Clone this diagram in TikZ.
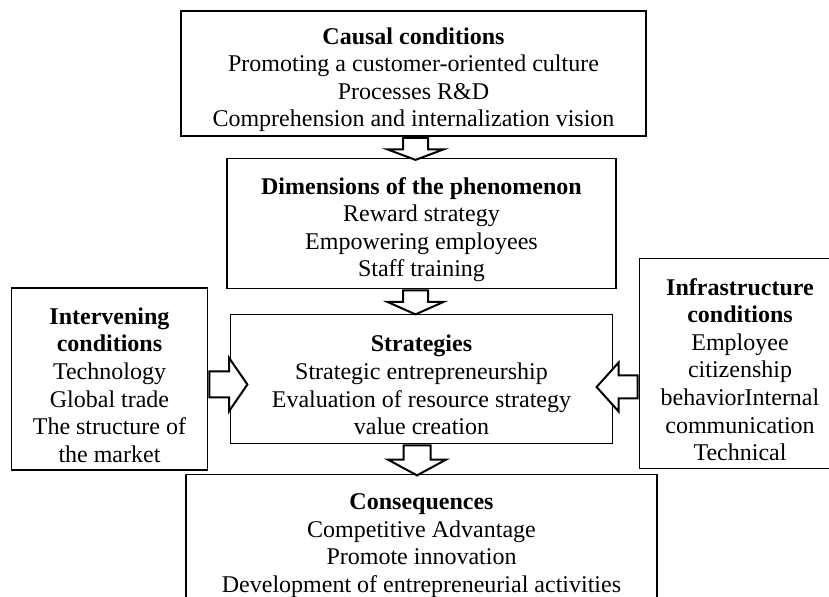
\documentclass[tikz,border=0pt]{standalone}
\usepackage{fontspec}
\setmainfont{Liberation Serif}
\usepackage{tikz}
\usetikzlibrary{shapes.arrows, positioning}

\newcommand{\boxhead}[1]{\rule{0pt}{14.5pt}\textbf{#1}}
\tikzstyle{box} = [rectangle, draw=black, line width=0.9pt, align=center, inner ysep=0pt, font=\fontsize{12}{13.8}\selectfont]
\tikzstyle{downarrow} = [single arrow, shape border rotate=270, draw=black, fill=white, line width=1pt, anchor=tail, inner xsep=5.75pt, inner ysep=0pt, single arrow head extend=7.75pt]
\tikzstyle{sidearrow} = [single arrow, draw=black, fill=white, line width=1pt, anchor=tail, inner xsep=0pt, inner ysep=6pt, single arrow head extend=6.75pt]

\begin{document}
\begin{tikzpicture}[node distance=75pt]
\useasboundingbox (-206.75pt,36.75pt) rectangle (207.75pt,-261.75pt);

\node (causal) [box, minimum width=232.5pt, minimum height=62.5pt] {\boxhead{Causal conditions}\\Promoting a customer-oriented culture\\Processes R\&D\\Comprehension and internalization vision};
\node (dims) [box, below of=causal, xshift=4pt, minimum width=194.5pt, minimum height=65pt] {\boxhead{Dimensions of the phenomenon}\\Reward strategy\\Empowering employees\\Staff training};
\node (strat) [box, below of=dims, yshift=-2.75pt, minimum width=191pt, minimum height=64.5pt] {\boxhead{Strategies}\\Strategic entrepreneurship\\Evaluation of resource strategy\\value creation};
\node (conseq) [box, below of=strat, yshift=-5pt, minimum width=235.5pt, minimum height=64.5pt] {\boxhead{Consequences}\\Competitive Advantage\\Promote innovation\\Development of entrepreneurial activities};
\node (interv) [box, left of=strat, xshift=-81pt, minimum width=98pt, minimum height=91pt] {\boxhead{Intervening}\\\textbf{conditions}\\Technology\\Global trade\\The structure of\\the market};
\node (infra) [box, right of=strat, xshift=84.25pt, yshift=7.75pt, minimum width=100.5pt, minimum height=105pt] {\boxhead{Infrastructure}\\\textbf{conditions}\\Employee\\citizenship\\behaviorInternal\\communication\\Technical};

% block arrows
\node (arr1) [downarrow, minimum height=11pt, single arrow tip angle=139] at ([xshift=1pt]causal.south) {};
\node (arr2) [downarrow, minimum height=12pt, single arrow tip angle=132] at ([xshift=-3pt]dims.south) {};
\node (arr3) [downarrow, minimum height=15pt, inner xsep=6.25pt, single arrow tip angle=123] at ([xshift=-2.25pt]strat.south) {};
\node (arr4) [sidearrow, minimum height=19pt, single arrow tip angle=111] at ([yshift=-2.75pt]interv.east) {};
\node (arr5) [sidearrow, shape border rotate=180, minimum height=20.5pt, inner ysep=5.25pt, single arrow head extend=6.5pt, single arrow tip angle=96] at ([yshift=-11.75pt]infra.west) {};

\end{tikzpicture}
\end{document}
